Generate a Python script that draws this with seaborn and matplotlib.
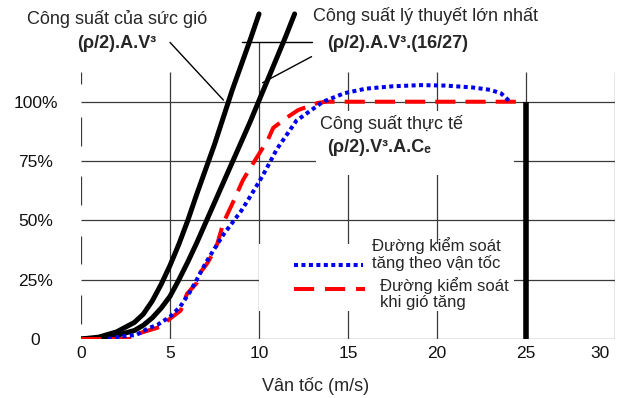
import numpy as np
import seaborn as sns
import matplotlib.pyplot as plt
from matplotlib.patches import Rectangle
import matplotlib.transforms as mtransforms

# wind power curves, speed in m/s, power in % of rated
v_wind = [0, 1, 2, 3, 3.5, 4, 4.5, 5, 5.5, 6, 6.5, 7, 7.5, 8, 8.5, 9, 9.5, 10]
p_wind = [0, 0.8, 3, 7, 10.5, 16, 23, 31, 40, 50, 61, 71.5, 82, 93.5, 105, 115.5, 126, 137]

v_betz = [0, 1, 2, 3, 3.5, 4, 4.5, 5, 5.5, 6, 6.5, 7, 7.5, 8, 8.5, 9, 9.5, 10, 10.5, 11, 11.5, 12]
p_betz = [0, 0.3, 1.5, 3.6, 5.8, 8.9, 13, 18, 25, 32.5, 40.5, 49, 57.5, 66, 74.5, 83, 91.5,
          100.5, 109.5, 118.5, 127.5, 137]

v_pitch = [1.5, 2.2, 3.1, 3.8, 4.3, 5.0, 5.57, 6.13, 6.5, 7.0, 7.45, 8.0, 8.5, 9.0, 9.5, 10.1,
           10.4, 11.0, 12.1, 13.6, 14.8, 16, 17.5, 19.1, 20.5, 22, 23, 23.6, 24.1]
p_pitch = [0, 1, 1.7, 4.6, 6, 9.4, 13.6, 20, 25, 32, 37.5, 44, 49, 54, 60, 67.5,
           71.5, 80, 92, 100, 103.6, 105.5, 106.5, 107, 106.8, 106, 105, 103.5, 100]

v_stall = [0, 1.0, 2.75, 3.3, 4.4, 4.9, 5.6, 5.95, 6.5, 6.7, 7.1, 7.4, 7.65, 8.0, 8.5, 9.1,
           9.5, 10.0, 10.5, 10.8, 11.6, 12.2, 13.3, 13.8, 25]
p_stall = [0, 0, 0, 2.5, 5, 8, 12, 19, 23.6, 28, 32, 36, 40, 49, 57, 67,
           72, 78, 84, 89, 93.5, 96.5, 99.5, 100, 100]

cut_out = 25
x_ticks = [0, 5, 10, 15, 20, 25, 30]
y_ticks = [0, 25, 50, 75, 100]
y_labels = ['0', '25%', '50%', '75%', '100%']

sns.set_style('white')
plt.rcParams['font.family'] = ['Liberation Sans', 'DejaVu Sans']

fig = plt.figure(figsize=(6.17, 3.98), dpi=100)
ax = fig.add_axes([0.1313, 0.1482, 0.8655, 0.8347])
ax.set_xlim(0, 30)
ax.set_ylim(0, 140)
for s in ax.spines.values():
    s.set_visible(False)

gc = '#3a3a3a'
# horizontal grid + bottom axis
ax.hlines(y_ticks, 0, 30, color=gc, lw=0.9, zorder=1)
# vertical grid (x=10 one goes higher, up to the leader line)
for xt in x_ticks[1:]:
    top = 125 if xt == 10 else 112.5
    ax.vlines(xt, 0, top, color=gc, lw=0.9, zorder=1)
# broken left axis
yt = np.array(y_ticks)
ax.vlines(np.zeros(len(yt) - 1), yt[:-1] + 6.5, yt[:-1] + 18.5, color=gc, lw=0.9, zorder=1)
ax.vlines(0, 107.5, 112.5, color=gc, lw=0.9, zorder=1)

# white boxes behind the texts
ax.add_patch(Rectangle((13.2, 69), 11.1, 27, fc='white', ec='none', zorder=1.5))
ax.add_patch(Rectangle((10.0, 12), 14.3, 28, fc='white', ec='none', zorder=1.5))

sns.lineplot(x=v_wind, y=p_wind, ax=ax, color='black', lw=3.6, zorder=3)
sns.lineplot(x=v_betz, y=p_betz, ax=ax, color='black', lw=3.6, zorder=3)
sns.lineplot(x=v_pitch, y=p_pitch, ax=ax, color='#0000ee', lw=2.9,
             linestyle=(0, (1, 0.85)), zorder=4)
sns.lineplot(x=v_stall, y=p_stall, ax=ax, color='#ff0000', lw=2.9,
             linestyle=(0, (5, 2.5)), zorder=3.5)
ax.vlines(cut_out, 0, 100, color='black', lw=4, zorder=5)

# leader lines
ax.plot([5.0, 8.0], [125, 100.7], color='black', lw=1, zorder=2)
ax.plot([9.06, 12.95], [125, 125], color='black', lw=1, zorder=2)
ax.plot([12.95, 10.2], [119, 108], color='black', lw=1, zorder=2)

fs = 13
ax.text(-3.03, 134.9, 'Công suất của sức gió', fontsize=fs, va='center')
ax.text(-0.22, 124.7, '(ρ/2).A.V³', fontsize=fs, va='center', fontweight='bold')
ax.text(13.03, 136.1, 'Công suất lý thuyết lớn nhất', fontsize=fs, va='center')
ax.text(13.82, 124.7, '(ρ/2).A.V³.(16/27)', fontsize=fs, va='center', fontweight='bold')
ax.text(13.43, 90.6, 'Công suất thực tế', fontsize=fs, va='center', zorder=6)
ax.text(13.82, 80.5, '(ρ/2).V³.A.Cₑ', fontsize=fs, va='center', fontweight='bold', zorder=6)

# hand-made legend
ax.plot([11.97, 15.84], [31.2, 31.2], color='#0000ee', lw=2.9, linestyle=(0, (1, 0.85)))
ax.plot([11.97, 15.96], [21.1, 21.1], color='#ff0000', lw=2.9, linestyle=(0, (5, 2.7)))
ax.text(16.35, 35.8, 'Đường kiểm soát\ntăng theo vận tốc', fontsize=12, va='center',
        linespacing=1.1)
ax.text(16.8, 19.2, 'Đường kiểm soát\nkhi gió tăng', fontsize=12, va='center',
        linespacing=1.1)

ax.set_xticks(x_ticks)
ax.set_yticks(y_ticks)
ax.set_yticklabels(y_labels)
ax.tick_params(axis='x', length=0, pad=5, labelsize=12.5, labelcolor='#111111')
ax.tick_params(axis='y', length=0, pad=32.8, labelsize=12.5, labelcolor='#111111')
for lab in ax.get_yticklabels():
    lab.set_ha('center')
last = ax.get_xticklabels()[-1]
last.set_ha('right')
last.set_transform(last.get_transform() + mtransforms.ScaledTranslation(-4 / 72, 0, fig.dpi_scale_trans))

ax.set_xlabel('Vân tốc (m/s)', fontsize=13)
ax.set_ylabel('')
ax.xaxis.set_label_coords(0.44, -0.114)

fig.savefig('out.png', dpi=100)
